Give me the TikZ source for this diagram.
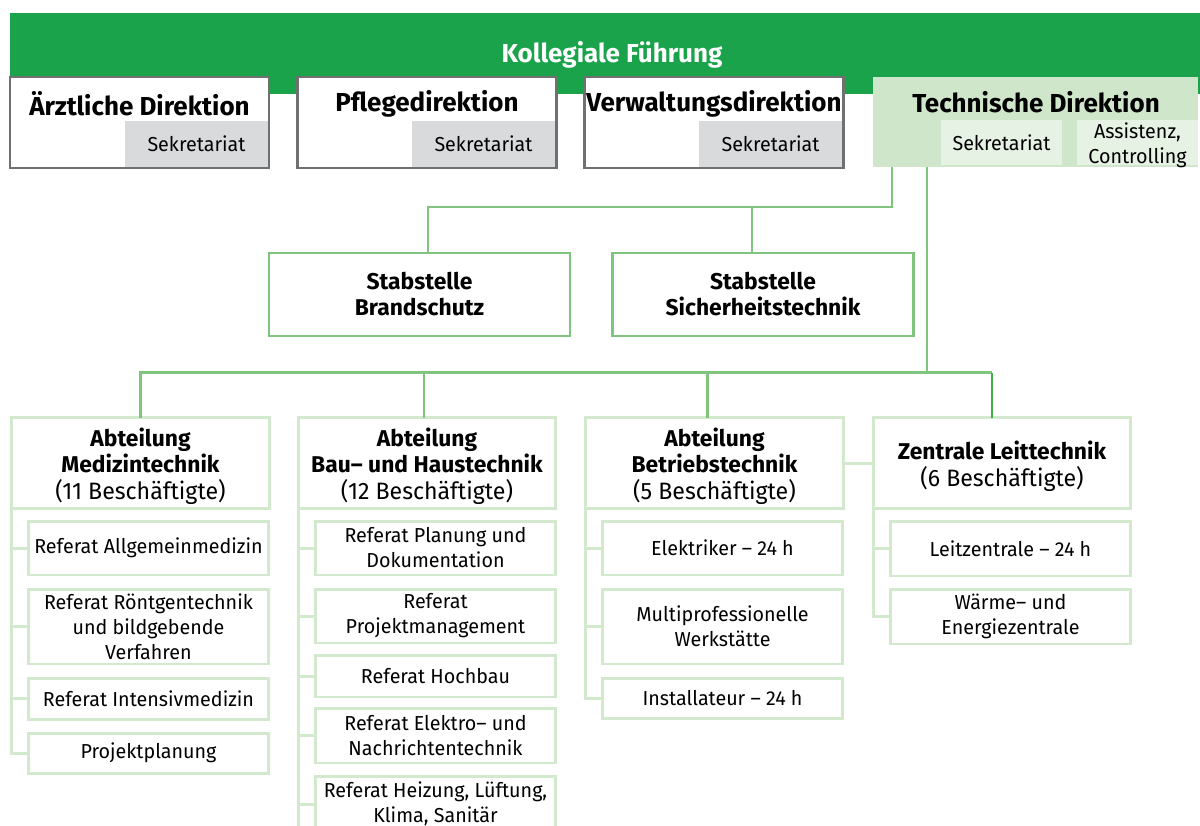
\documentclass[tikz,border=0pt]{standalone}
\usepackage{fontspec}
\setmainfont{Fira Sans}[FakeStretch=0.975,BoldFeatures={FakeStretch=1.0}]
\usetikzlibrary{calc}
\definecolor{bannergreen}{RGB}{26,163,74}
\definecolor{framegray}{RGB}{112,112,112}
\definecolor{secgray}{RGB}{217,218,220}
\definecolor{techfill}{RGB}{207,230,203}
\definecolor{techinner}{RGB}{230,242,227}
\definecolor{midgreen}{RGB}{128,196,128}
\definecolor{lightgreen}{RGB}{210,233,206}
\definecolor{deepgreen}{RGB}{61,174,74}
\newcommand\bigheadfont{\bfseries\fontsize{14.8}{17}\selectfont}
\newcommand\headfont{\bfseries\fontsize{13}{14.8}\selectfont}
\newcommand\subfont{\fontsize{11.5}{14.2}\selectfont}
\newcommand\cntsize{\fontsize{13.5}{15.2}\selectfont}
\begin{document}
\begin{tikzpicture}[x=0.02cm,y=-0.02cm,
  every node/.style={inner sep=0pt,outer sep=0pt},
  topbox/.style={draw=framegray,line width=1.2pt,fill=white,minimum width=5.18cm,minimum height=1.82cm},
  secbox/.style={fill=secgray,minimum width=2.86cm,minimum height=0.92cm,font=\subfont},
  innerbox/.style={fill=techinner,minimum width=2.42cm,minimum height=0.9cm},
  title/.style={font=\bigheadfont,align=center},
  stabbox/.style={draw=midgreen,line width=1.4pt,fill=white,minimum width=6.02cm,minimum height=1.66cm,font=\headfont,align=center},
  abtbox/.style={draw=lightgreen,line width=1.7pt,fill=white,minimum width=5.16cm,minimum height=1.82cm},
  abttext/.style={align=center,font=\fontsize{13}{15.2}\selectfont},
  refbox/.style={draw=lightgreen,line width=1.7pt,fill=white,minimum width=4.82cm,font=\subfont,align=center},
  conn/.style={draw=midgreen,line width=1.2pt},
  spine/.style={draw=lightgreen,line width=1.7pt}]
\useasboundingbox (0,0) rectangle (1200,825);
\clip (0,0) rectangle (1200,825);

% Board banner
\node[fill=bannergreen,minimum width=23.8cm,minimum height=1.62cm] (banner) at (605,53.5) {};
\node[text=white,font=\bigheadfont] (board) at (612,55) {Kollegiale Führung};

% Directorates
\node[topbox] (aerzt) at (139.5,122.5) {};
\node[secbox] (aerztsek) at (196.5,144) {Sekretariat};
\node[title] (aerztname) at (139.5,104) {Ärztliche Direktion};

\node[topbox] (pflege) at (427,122.5) {};
\node[secbox] (pflegesek) at (483.5,144) {Sekretariat};
\node[title] (pflegename) at (427,104) {Pflegedirektion};

\node[topbox] (verw) at (714,122.5) {};
\node[secbox] (verwsek) at (770.5,144) {Sekretariat};
\node[title] (verwname) at (714,104) {Verwaltungsdirektion};

\node[fill=techfill,minimum width=6.5cm,minimum height=1.8cm] (tech) at (1035.5,122) {};
\node[title] (techname) at (1036,102) {Technische Direktion};
\node[innerbox] (techsek) at (1001.5,142.5) {};
\node[font=\subfont] (techsektext) at (techsek) {Sekretariat};
\node[innerbox] (techass) at (1137.5,142.5) {};
\node[font=\subfont,align=center] (techasstext) at (1137.5,145) {Assistenz,\\Controlling};

% Staff units
\node[stabbox] (brand) at (419.5,294.5) {Stabstelle\\Brandschutz};
\node[stabbox] (sich) at (763,294.5) {Stabstelle\\Sicherheitstechnik};
\draw[conn] ($(tech.south west)+(19,0)$) |- ($(brand.north)+(8.5,-46)$) -- ($(brand.north)+(8.5,0)$);
\draw[conn] ($(sich.north)+(-11,0)$) -- ++(0,-46);

% Departments
\node[abtbox] (abt1) at (140.5,463) {};
\node[abttext] (abt1text) at (140.5,466) {\bfseries Abteilung\\\bfseries Medizintechnik\\\cntsize (11 Beschäftigte)};
\node[abtbox] (abt2) at (427,463) {};
\node[abttext] (abt2text) at (427,466) {\bfseries Abteilung\\\bfseries Bau– und Haustechnik\\\cntsize (12 Beschäftigte)};
\node[abtbox] (abt3) at (714.5,463) {};
\node[abttext] (abt3text) at (714.5,466) {\bfseries Abteilung\\\bfseries Betriebstechnik\\\cntsize (5 Beschäftigte)};
\node[abtbox] (abt4) at (1002,463) {};
\node[abttext] (abt4text) at (1002,466) {\bfseries Zentrale Leittechnik\\\cntsize (6 Beschäftigte)};

\draw[conn] ($(tech.south west)+(54,0)$) -- ($(tech.south west)+(54,205)$);
\draw[conn] (abt1.north) -- ++(0,-45) -- ($(abt4.north)+(-10,-45)$);
\draw[conn] ($(abt2.north)+(-3,0)$) -- ++(0,-45);
\draw[conn] ($(abt3.north)+(-7,0)$) -- ++(0,-45);
\draw[draw=deepgreen,line width=1.2pt] ($(abt4.north)+(-10,0)$) -- ++(0,-45);
\draw[spine] (abt3.east) -- (abt4.west);

% Sections of Medizintechnik
\node[refbox,minimum height=1.08cm] (m1) at (148.5,548) {Referat Allgemeinmedizin};
\node[refbox,minimum height=1.5cm] (m2) at (148.5,626.5) {Referat Röntgentechnik\\und bildgebende\\Verfahren};
\node[refbox,minimum height=0.82cm] (m3) at (148.5,698.5) {Referat Intensivmedizin};
\node[refbox,minimum height=0.8cm] (m4) at (148.5,753) {Projektplanung};
\foreach \n in {m1,m2,m3,m4} \draw[spine] (abt1.south west) |- (\n.west);

% Sections of Bau- und Haustechnik
\node[refbox,minimum height=1.08cm] (b1) at (435.5,548) {Referat Planung und\\Dokumentation};
\node[refbox,minimum height=1.08cm] (b2) at (435.5,616) {Referat\\Projektmanagement};
\node[refbox,minimum height=0.84cm] (b3) at (435.5,676) {Referat Hochbau};
\node[refbox,minimum height=1.1cm] (b4) at (435.5,735.5) {Referat Elektro– und\\Nachrichtentechnik};
\node[refbox,minimum height=1.12cm] (b5) at (435.5,804) {Referat Heizung, Lüftung,\\Klima, Sanitär};
\foreach \n in {b1,b2,b3,b4,b5} \draw[spine] (abt2.south west) |- (\n.west);
\draw[spine] (b5.west -| abt2.south west) -- ++(0,40);

% Sections of Betriebstechnik
\node[refbox,minimum height=1.08cm] (e1) at (722.5,548) {Elektriker – 24 h};
\node[refbox,minimum height=1.5cm] (e2) at (722.5,626.5) {Multiprofessionelle\\Werkstätte};
\node[refbox,minimum height=0.8cm] (e3) at (722.5,698) {Installateur – 24 h};
\foreach \n in {e1,e2,e3} \draw[spine] (abt3.south west) |- (\n.west);

% Sections of Zentrale Leittechnik
\node[refbox,minimum height=1.1cm] (z1) at (1010.5,548.5) {Leitzentrale – 24 h};
\node[refbox,minimum height=1.1cm] (z2) at (1010.5,616.5) {Wärme– und\\Energiezentrale};
\foreach \n in {z1,z2} \draw[spine] (abt4.south west) |- (\n.west);
\end{tikzpicture}
\end{document}
